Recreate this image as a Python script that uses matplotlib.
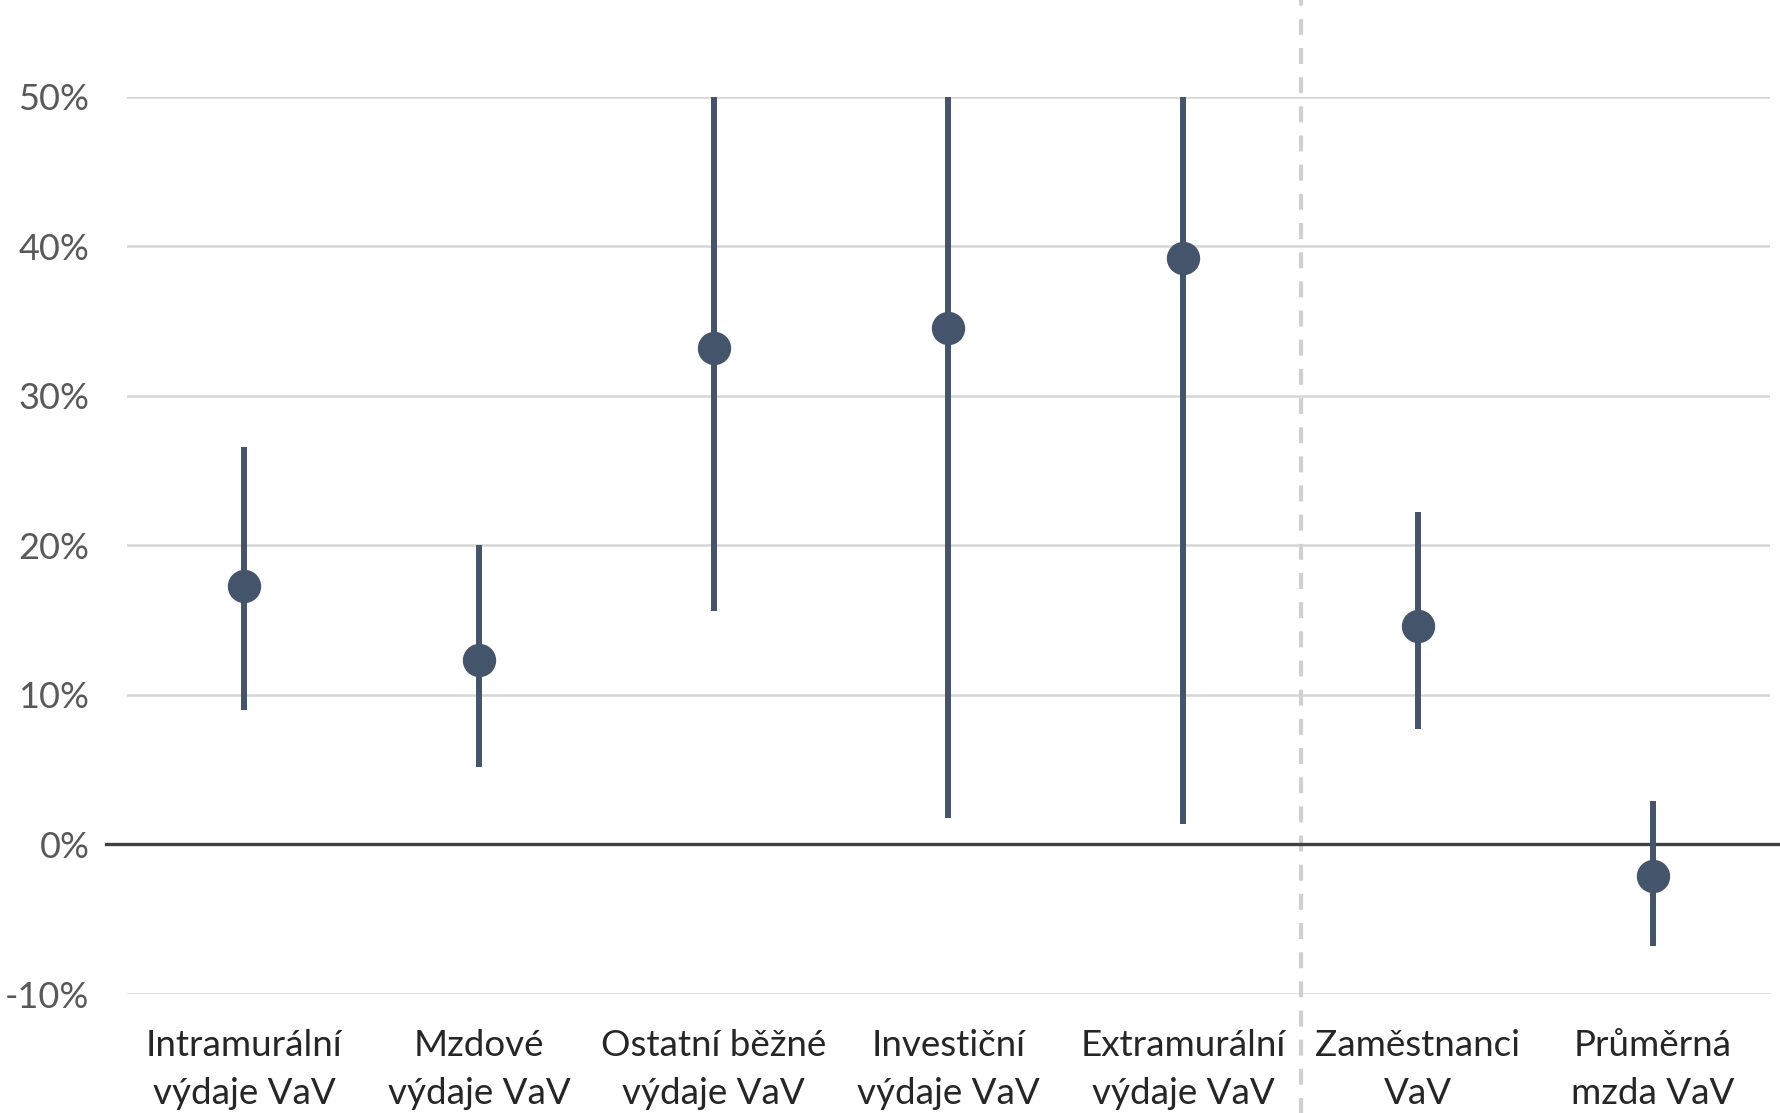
import matplotlib
matplotlib.use("Agg")
import matplotlib.pyplot as plt
import numpy as np

# Popisky kategorii
kategorie = ["Intramurální\nvýdaje VaV", "Mzdové\nvýdaje VaV", "Ostatní běžné\nvýdaje VaV",
             "Investiční\nvýdaje VaV", "Extramurální\nvýdaje VaV", "Zaměstnanci\nVaV",
             "Průměrná\nmzda VaV"]

# Hodnoty v procentech (bod, dolni a horni mez)
stred = [17.3, 12.3, 33.2, 34.5, 39.2, 14.6, -2.1]
dolni = [9.0, 5.2, 15.6, 1.8, 1.4, 7.7, -6.8]
horni = [26.6, 20.0, 50.0, 50.0, 50.0, 22.2, 2.9]

osa_y = [-10, 0, 10, 20, 30, 40, 50]

plt.rcParams['font.family'] = ['Lato', 'DejaVu Sans']
plt.rcParams['lines.scale_dashes'] = False

barva = "#44546a"

fig = plt.figure(figsize=(17.81, 11.13), dpi=100)
ax = fig.add_axes([0.0713, 0.1069, 0.9225, 0.8063])

x = np.arange(len(kategorie))

# mrizka
for v in osa_y:
    if v != 0:
        ax.axhline(v, color="#d6d6d6", lw=1.8, zorder=1)
ax.axhline(0, xmin=-0.013, xmax=1.01, color="#404040", lw=2.4, zorder=2, clip_on=False)

# oddelovac
ax.axvline(4.5, ymin=-0.3, ymax=1.2, color="#d0d0d0", lw=3, dashes=(11.5, 9.5),
           zorder=1, clip_on=False)

ax.vlines(x, dolni, horni, color=barva, lw=4.3, capstyle="butt", zorder=3)
ax.plot(x, stred, "o", color=barva, ms=23, zorder=4)

ax.set_xlim(-0.5, 6.5)
ax.set_ylim(-10, 50)
ax.set_yticks(osa_y)
ax.set_yticklabels([f"{v}%" for v in osa_y], fontsize=26, color="#595959")
ax.set_xticks(x)
ax.set_xticklabels(kategorie, fontsize=26.5, color="#262626", linespacing=1.55)
ax.tick_params(axis="y", length=0, pad=27)
ax.tick_params(axis="x", length=0, pad=25)
for s in ax.spines.values():
    s.set_visible(False)

fig.savefig("out.png", dpi=100)
